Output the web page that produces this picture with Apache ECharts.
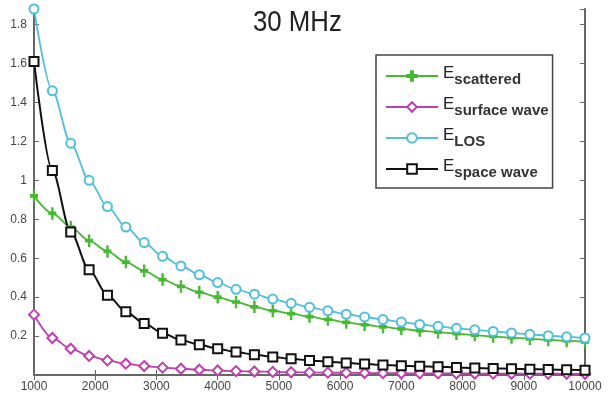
<!DOCTYPE html>
<html><head><meta charset="utf-8">
<script src="https://cdn.jsdelivr.net/npm/echarts@6/dist/echarts.min.js"></script>
<style>html,body{margin:0;padding:0;background:#fff}#c{width:611px;height:399px}</style>
</head><body><div id="c"></div>
<script>
const distances = [1000,1300,1600,1900,2200,2500,2800,3100,3400,3700,4000,4300,4600,4900,5200,5500,5800,6100,6400,6700,7000,7300,7600,7900,8200,8500,8800,9100,9400,9700,10000];
const eScattered = [0.92,0.83,0.76,0.69,0.635,0.58,0.535,0.49,0.455,0.425,0.40,0.375,0.35,0.33,0.315,0.30,0.285,0.27,0.258,0.247,0.237,0.228,0.22,0.212,0.205,0.198,0.192,0.186,0.18,0.175,0.17];
const eSurface = [0.31,0.19,0.135,0.098,0.075,0.058,0.046,0.038,0.032,0.027,0.023,0.020,0.018,0.016,0.014,0.013,0.012,0.011,0.010,0.0095,0.009,0.0085,0.008,0.0078,0.0075,0.0072,0.007,0.0068,0.0065,0.0062,0.006];
const eLOS = [1.88,1.46,1.19,1.0,0.865,0.76,0.68,0.61,0.56,0.515,0.475,0.44,0.415,0.39,0.368,0.348,0.33,0.312,0.298,0.285,0.272,0.26,0.25,0.24,0.232,0.224,0.216,0.209,0.202,0.196,0.19];
const eSpace = [1.61,1.05,0.735,0.54,0.41,0.325,0.265,0.215,0.18,0.155,0.135,0.118,0.104,0.093,0.083,0.075,0.068,0.062,0.057,0.052,0.048,0.045,0.042,0.039,0.036,0.034,0.032,0.030,0.028,0.027,0.025];
const seriesNames = ['scattered','surface wave','LOS','space wave'];
const titleText = '30 MHz';

const pairs = arr => distances.map((d,i)=>[d, arr[i]]);
const axisCol = '#666';
const plusPath = 'path://M4,0 L6,0 L6,4 L10,4 L10,6 L6,6 L6,10 L4,10 L4,6 L0,6 L0,4 L4,4 Z';

function mk(name, data, color, symbol, size, width){
  return {name, type:'line', data: pairs(data), smooth:0.3, smoothMonotone:'x',
    symbol, symbolSize:size, showAllSymbol:true,
    lineStyle:{color, width}, itemStyle:{color, borderColor:color, borderWidth:1.2},
    xAxisIndex:0, yAxisIndex:0};
}
const chart = echarts.init(document.getElementById('c'), null, {renderer:'canvas'});
const lblFont = {color:'#444', fontSize:12, fontFamily:'Liberation Sans, Arial, sans-serif'};
chart.setOption({
  animation:false,
  backgroundColor:'#fff',
  graphic:[
    {type:'rect', left:232, top:0, z:100, shape:{width:153, height:22}, style:{fill:'#fff'}},
    {type:'text', x:253, y:8, scaleX:0.86, z:101,
     style:{text:titleText, fill:'#222', font:'30px "Liberation Sans", Arial, sans-serif', textVerticalAlign:'top'}}
  ],
  grid:{left:34, right:26, top:9, bottom:24},
  xAxis:[
    {type:'value', min:1000, max:10000, interval:1000, position:'bottom',
     axisLine:{lineStyle:{color:axisCol, width:2}}, axisTick:{inside:true, length:5, lineStyle:{color:axisCol}},
     axisLabel:Object.assign({margin:6, formatter: v => String(v)}, lblFont), splitLine:{show:false}},
    {type:'value', min:1000, max:10000, interval:1000, position:'top',
     axisLine:{lineStyle:{color:axisCol, width:2}}, axisTick:{inside:true, length:5, lineStyle:{color:axisCol}},
     axisLabel:{show:false}, splitLine:{show:false}}
  ],
  yAxis:[
    {type:'value', min:0, max:1.88, interval:0.2, position:'left',
     axisLine:{lineStyle:{color:axisCol, width:2}}, axisTick:{inside:true, length:5, lineStyle:{color:axisCol}},
     axisLabel:Object.assign({margin:7, formatter: v => (v===0 || Math.abs(v*10 - Math.round(v*10))>1e-6 || Math.round(v*10)%2!==0) ? '' : String(Math.round(v*10)/10)}, lblFont),
     splitLine:{show:false}},
    {type:'value', min:0, max:1.88, interval:0.2, position:'right',
     axisLine:{lineStyle:{color:axisCol, width:2}}, axisTick:{inside:true, length:5, lineStyle:{color:axisCol}},
     axisLabel:{show:false}, splitLine:{show:false}}
  ],
  legend:{orient:'vertical', left:376, top:55, padding:[10,4,8,9], itemGap:9, itemWidth:52, itemHeight:12,
    backgroundColor:'#fff', borderColor:'#444', borderWidth:1.5, z:20,
    formatter: n => '{e|E}{s|' + n + '}',
    textStyle:{rich:{
      e:{fontSize:17, fontFamily:'Liberation Sans, Arial, sans-serif', color:'#222', lineHeight:20, verticalAlign:'top'},
      s:{fontSize:15, fontWeight:'bold', fontFamily:'Liberation Sans, Arial, sans-serif', color:'#333', lineHeight:22, verticalAlign:'bottom'}
    }},
    data: seriesNames},
  series:[
    mk('scattered', eScattered, '#46b932', plusPath, [7,11], 1.8),
    mk('surface wave', eSurface, '#bf3fae', 'emptyDiamond', 10, 1.8),
    mk('LOS', eLOS, '#52bedd', 'emptyCircle', 9, 1.8),
    mk('space wave', eSpace, '#111111', 'emptyRect', 9, 2)
  ]
});
</script></body></html>
